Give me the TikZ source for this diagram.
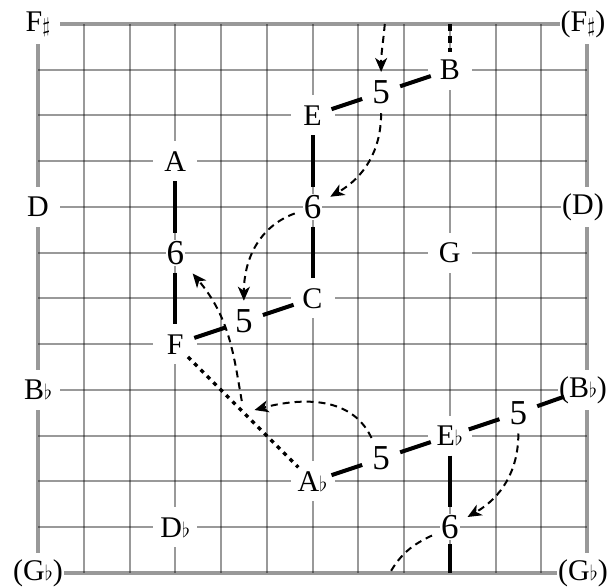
\documentclass[tikz,border=0pt]{standalone}
\usepackage{fontspec}
\setmainfont{Liberation Serif}
\usetikzlibrary{arrows.meta}
\newcommand{\myflat}{{\fontsize{20}{20}\selectfont$\flat$}}
\newcommand{\mysharp}{{\fontsize{21}{21}\selectfont\raisebox{-1.5pt}{$\sharp$}}}
\tikzset{
  every node/.style={font=\fontsize{30}{34}\selectfont},
  gridl/.style={draw=black, opacity=0.4, line width=2pt},
  bord/.style={draw=black, opacity=0.4, line width=4pt},
  lab/.style={fill=white, inner sep=1pt, minimum width=44pt, minimum height=40pt},
  rlab/.style={lab, xshift=-4pt},
  dig/.style={fill=white, inner sep=1pt, outer sep=8pt, font=\fontsize{35}{40}\selectfont},
  blk/.style={line width=4pt, shorten <=20pt, shorten >=20pt},
  dotl/.style={line width=3.5pt, dash pattern=on 4pt off 5pt, shorten <=18pt, shorten >=20pt},
  dsh/.style={line width=2pt, dash pattern=on 7pt off 5pt},
  arr/.style={dsh, -{Stealth[length=14pt,width=12pt,inset=4pt]}}
}
\begin{document}
\begin{tikzpicture}[x=45.75pt,y=45.75pt]
\useasboundingbox (-38pt,-15pt) rectangle (572pt,573pt);
% grid
\foreach \i in {1,...,11} {
  \draw[gridl] (\i,0) -- (\i,12);
  \draw[gridl] (0,\i) -- (12,\i);
}
\draw[bord] (0,0) rectangle (12,12);
% coordinates
\coordinate (top9) at (9,12);
\coordinate (bot9) at (9,0);
\coordinate (wrapT) at (7.58,12);
\coordinate (wrapB) at (7.69,0);
\coordinate (M) at (4.5,3.5);
% labels
\node[lab] (Fs) at (0,12) {F\mysharp};
\node[rlab] (Fs2) at (12,12) {(F\mysharp)};
\node[lab] (D) at (0,8) {D};
\node[rlab] (D2) at (12,8) {(D)};
\node[lab] (Bb) at (0,4) {B\myflat};
\node[rlab] (Bb2) at (12,4) {(B\myflat)};
\node[lab] (Gb) at (0,0) {(G\myflat)};
\node[rlab] (Gb2) at (12,0) {(G\myflat)};
\node[lab] (B) at (9,11) {B};
\node[lab] (E) at (6,10) {E};
\node[lab] (A) at (3,9) {A};
\node[lab] (G) at (9,7) {G};
\node[lab] (C) at (6,6) {C};
\node[lab] (F) at (3,5) {F};
\node[lab] (Eb) at (9,3) {E\myflat};
\node[lab] (Ab) at (6,2) {A\myflat};
\node[lab] (Db) at (3,1) {D\myflat};
\node[dig] (n5a) at (7.5,10.5) {5};
\node[dig] (n6a) at (6,8) {6};
\node[dig] (n6b) at (3,7) {6};
\node[dig] (n5b) at (4.5,5.5) {5};
\node[dig] (n5c) at (10.5,3.5) {5};
\node[dig] (n5d) at (7.5,2.5) {5};
\node[dig] (n6c) at (9,1) {6};
% thick connections
\draw[blk] (E.center) -- (n5a.center);
\draw[blk] (n5a.center) -- (B.center);
\draw[blk] (E.center) -- (n6a.center);
\draw[blk] (n6a.center) -- (C.center);
\draw[blk] (A.center) -- (n6b.center);
\draw[blk] (n6b.center) -- (F.center);
\draw[blk] (F.center) -- (n5b.center);
\draw[blk] (n5b.center) -- (C.center);
\draw[blk] (Ab.center) -- (n5d.center);
\draw[blk] (n5d.center) -- (Eb.center);
\draw[blk] (Eb.center) -- (n5c.center);
\draw[blk] (n5c.center) -- (Bb2.center);
\draw[blk] (Eb.center) -- (n6c.center);
\draw[blk, shorten >=0pt, shorten <=17pt] (n6c.center) -- (bot9);
\draw[line width=4pt, dash pattern=on 7pt off 5pt, shorten >=18pt] (top9) -- (B.center);
\draw[dotl] (F.center) -- (Ab.center);
% dashed arrows
\draw[arr] (wrapT) to[out=-95,in=90] (n5a);
\draw[arr] (n5a) to[out=-90,in=30] (n6a);
\draw[arr] (n6a) to[out=200,in=90] (n5b);
\draw[arr] (n5c) to[out=-90,in=30] (n6c);
\draw[dsh] (n6c) to[out=205,in=60] (wrapB);
\draw[arr, shorten >=11pt] (n5d) to[out=115,in=15] (M);
\draw[arr, shorten <=12pt] (M) to[out=100,in=-50] (n6b);
\end{tikzpicture}
\end{document}
